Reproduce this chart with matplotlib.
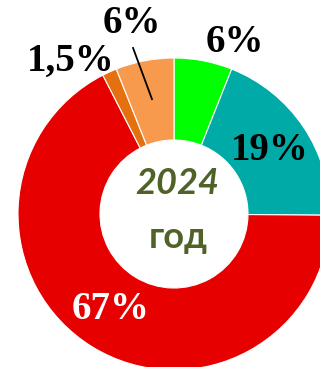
"""
Donut chart: structure shares for 2024
"""

import numpy as np
import matplotlib.pyplot as plt

# Shares, clockwise from 12 o'clock
labels = ['6%', '19%', '67%', '1,5%', '6%']
values = [6, 19, 67, 1.5, 6]
colors = ['#00FF00', '#00AAA6', '#E60000', '#E4700F', '#F79A4E']

year_text = '2024'
year_word = 'год'

W, H = 320, 367
CX, CY = 174, H - 214
R_OUT, R_IN = 156, 74


def main():
    fig = plt.figure(figsize=(W / 100, H / 100), dpi=100)
    ax = fig.add_axes([0, 0, 1, 1])

    wedges, _ = ax.pie(
        values,
        colors=colors,
        startangle=90,
        counterclock=False,
        radius=R_OUT,
        center=(CX, CY),
        wedgeprops=dict(width=R_OUT - R_IN, edgecolor='white', linewidth=0.8),
    )
    ax.set_xlim(0, W)
    ax.set_ylim(0, H)
    ax.set_aspect('equal')
    ax.axis('off')

    label_font = dict(family='Liberation Serif', fontweight='bold', fontsize=28)

    # label positions (radius, angle offset in degrees from wedge middle)
    spots = [(182, -8.7), (115, -0.5), (115, -2), (184, 9.7), (195, 1.6)]
    text_colors = ['black', 'black', 'white', 'black', 'black']
    for i, w in enumerate(wedges):
        mid = np.deg2rad((w.theta1 + w.theta2) / 2 + spots[i][1])
        r = spots[i][0]
        x = CX + r * np.cos(mid)
        y = CY + r * np.sin(mid)
        ax.text(x, y, labels[i], color=text_colors[i], ha='center', va='center',
                **label_font)

    # leader line for the small orange slice
    w = wedges[4]
    mid = np.deg2rad((w.theta1 + w.theta2) / 2)
    a2 = mid + np.deg2rad(3)
    ax.plot([CX + 117 * np.cos(mid), CX + 171 * np.cos(a2)],
            [CY + 117 * np.sin(mid), CY + 171 * np.sin(a2)],
            color='black', linewidth=1.3)

    ax.text(CX + 3, CY + 31, year_text, color='#4F6228', ha='center', va='center',
            family='Lato', fontweight='bold', fontstyle='italic', fontsize=26)
    ax.text(CX + 4, CY - 24, year_word, color='#4F6228', ha='center', va='center',
            family='Lato', fontweight='bold', fontsize=26)

    fig.savefig('out.png', dpi=100)


if __name__ == "__main__":
    main()
